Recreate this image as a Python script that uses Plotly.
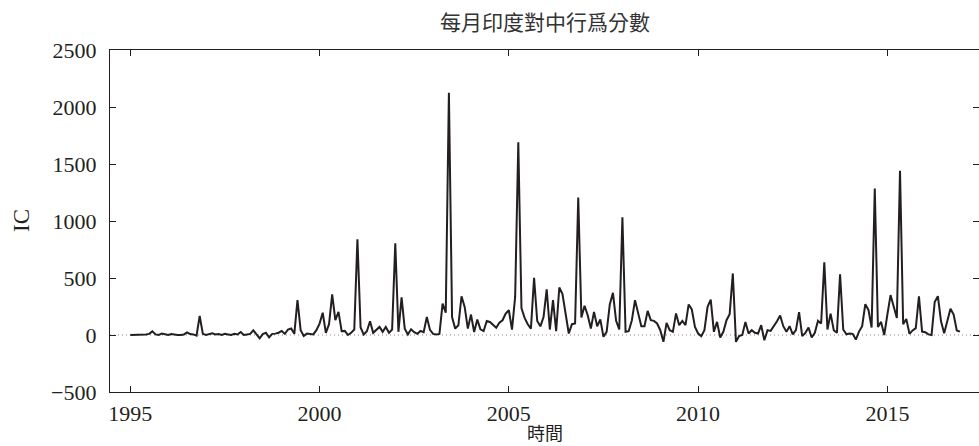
import plotly.graph_objects as go

# Monthly IC score (India towards China), Jan 1995 - Dec 2016
start_year = 1995
ic_1995_1999 = [0, 0, 0, 0, 0, 5, 10, 32, 5, 0, 12, 5,
                0, 8, 3, 0, 0, 5, 22, 8, 5, -5, 167, 10,
                0, 5, 15, 5, 8, 0, 10, 5, 0, 10, 5, 26,
                0, 5, 10, 41, 0, -30, 8, 20, -20, 10, 12, 20,
                36, 10, 48, 57, 10, 306, 42, -8, 13, 8, 5, 42]
ic_2000_2004 = [100, 195, 19, 95, 356, 130, 203, 33, 36, 0, 19, 48,
                839, 66, 4, 33, 121, 19, 42, 71, 28, 71, 19, 48,
                804, 28, 330, 56, 5, 50, 25, 10, 35, 25, 158, 45,
                10, 5, 10, 275, 196, 2125, 158, 56, 85, 340, 246, 56,
                179, 26, 135, 50, 35, 123, 114, 91, 64, 108, 129, 188]
ic_2005_2009 = [217, 47, 334, 1690, 237, 150, 94, 56, 501, 123, 76, 158,
                400, 48, 306, 33, 417, 359, 189, 13, 95, 101, 1205, 154,
                256, 174, 57, 203, 77, 136, -16, 28, 268, 370, 124, 48,
                1032, 28, 33, 130, 306, 189, 77, 77, 212, 130, 124, 101,
                42, -60, 107, 42, 28, 189, 86, 124, 86, 268, 224, 71]
ic_2010_2014 = [13, -10, 42, 247, 311, 28, 115, -22, 28, 130, 183, 540,
                -60, -10, 0, 115, 13, 42, 19, 13, 86, -46, 42, 36,
                77, 121, 171, 77, 28, 77, 6, 42, 200, -10, 19, 65,
                -22, 19, 124, 101, 637, 48, 188, 42, 19, 533, 48, 6,
                13, 10, -40, 30, 77, 270, 220, 65, 1285, 70, 115, 0]
ic_2015_2016 = [180, 350, 250, 150, 1440, 95, 140, 10, 40, 60, 340, 30,
                25, 5, 0, 290, 340, 120, 15, 120, 230, 180, 40, 30]

ic = ic_1995_1999 + ic_2000_2004 + ic_2005_2009 + ic_2010_2014 + ic_2015_2016
t = [start_year + i / 12 for i in range(len(ic))]

x_ticks = [1995, 2000, 2005, 2010, 2015]
y_ticks = [-500, 0, 500, 1000, 1500, 2000, 2500]
y_tick_text = ["\u2212500", "0", "500", "1000", "1500", "2000", "2500"]

title_text = "每月印度對中行爲分數"
x_title = "時間"
y_title = "IC"

ink = "#231f20"
serif = "Liberation Serif, Times New Roman, serif"
cjk = "Noto Sans CJK TC, Noto Sans CJK SC, sans-serif"

fig = go.Figure()
fig.add_trace(go.Scatter(x=t, y=ic, mode="lines",
                         line=dict(color=ink, width=2), hoverinfo="skip",
                         showlegend=False))

fig.add_shape(type="line", xref="paper", yref="y", x0=0, x1=1, y0=0, y1=0,
              line=dict(color="#8a8a8a", width=1, dash="1px,3px"), layer="below")

axis_common = dict(showline=True, linecolor=ink, linewidth=1.3, mirror="ticks",
                   ticks="inside", ticklen=6, tickwidth=1.2, tickcolor=ink,
                   showgrid=False, zeroline=False,
                   tickfont=dict(family=serif, size=22, color=ink))

fig.update_layout(
    width=979, height=446,
    margin=dict(l=110, r=0, t=50, b=54),
    paper_bgcolor="white", plot_bgcolor="white",
    xaxis=dict(range=[1994.464, 2017.42], tickvals=x_ticks,
               ticktext=[str(v) for v in x_ticks], ticklabelstandoff=1,
               **axis_common),
    yaxis=dict(range=[-500, 2500], tickvals=y_ticks, ticktext=y_tick_text,
               ticklabelstandoff=8, **axis_common),
    annotations=[
        dict(text=title_text, xref="paper", yref="paper", x=0.5, y=1,
             yshift=29, xanchor="center", yanchor="middle", showarrow=False,
             font=dict(family=cjk, size=21, color="#333333")),
        dict(text=x_title, xref="paper", yref="paper", x=0.5, y=0,
             yshift=-40, xanchor="center", yanchor="middle", showarrow=False,
             font=dict(family=cjk, size=18, color=ink)),
        dict(text=y_title, xref="paper", yref="paper", x=0, y=0.5,
             xshift=-89, xanchor="center", yanchor="middle", showarrow=False,
             textangle=-90, font=dict(family=serif, size=23, color=ink)),
    ],
)

fig.write_html("out.html")
